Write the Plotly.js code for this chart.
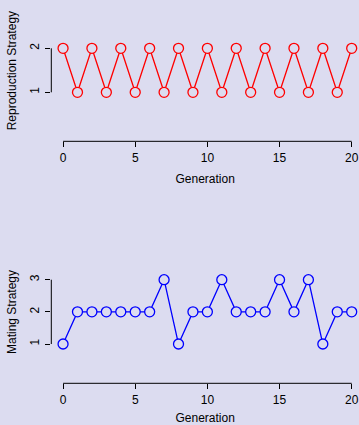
<!DOCTYPE html>
<html><head><meta charset="utf-8">
<script src="https://cdn.plot.ly/plotly-3.0.1.min.js"></script>
<style>html,body{margin:0;padding:0;background:#DCDCF0;}</style>
</head><body>
<div id="chart" style="width:359px;height:425px;"></div>
<script>
const generations = [0,1,2,3,4,5,6,7,8,9,10,11,12,13,14,15,16,17,18,19,20];
const reproductionStrategy = [2,1,2,1,2,1,2,1,2,1,2,1,2,1,2,1,2,1,2,1,2];
const matingStrategy = [1,2,2,2,2,2,2,3,1,2,2,3,2,2,2,3,2,3,1,2,2];
const xTicks = [0,5,10,15,20];
const yTicksTop = [1,2];
const yTicksBottom = [1,2,3];

const bg = '#DCDCF0';
const font = {family:'Liberation Sans, Arial, sans-serif', size:12, color:'#000'};

function trace(y, color, xa, ya){
  return {x:generations, y:y, xaxis:xa, yaxis:ya, type:'scatter', mode:'lines+markers',
    line:{color:color, width:1.3},
    marker:{symbol:'circle', size:10, color:bg, line:{color:color, width:1.3}},
    cliponaxis:false, hoverinfo:'skip'};
}

function xax(anchor){
  return {domain:[0.1429,1], anchor:anchor, range:[-0.8145,20.506], showgrid:false, zeroline:false,
    showline:false, ticks:'outside', ticklen:5, tickwidth:1, tickcolor:'#000',
    tickvals:xTicks, ticktext:xTicks.map(String), tickfont:font, ticklabelstandoff:0,
    title:{text:'Generation', font:font, standoff:10}};
}
function yax(anchor, domain, range, ticks, title){
  return {domain:domain, anchor:anchor, range:range, showgrid:false, zeroline:false,
    showline:false, ticks:'outside', ticklen:5, tickwidth:1, tickcolor:'#000',
    tickvals:ticks, ticktext:ticks.map(String), tickangle:-90, tickfont:font, ticklabelstandoff:2,
    title:{text:title, font:font, standoff:8}};
}

const shapes = [];
function axisLines(xa, ya, yt){
  shapes.push({type:'line', xref:xa, yref:ya+' domain', x0:xTicks[0], x1:xTicks[xTicks.length-1], y0:0, y1:0, line:{color:'#000', width:1}});
  shapes.push({type:'line', xref:xa+' domain', yref:ya, x0:0, x1:0, y0:yt[0], y1:yt[yt.length-1], line:{color:'#000', width:1}});
}
axisLines('x','y',yTicksTop);
axisLines('x2','y2',yTicksBottom);

const layout = {
  width:359, height:425, margin:{l:0,r:0,t:0,b:0},
  paper_bgcolor:bg, plot_bgcolor:bg, showlegend:false, font:font,
  xaxis: xax('y'),
  yaxis: yax('x', [0.6675,1], [-0.114,3.098], yTicksTop, 'Reproduction Strategy'),
  xaxis2: xax('y2'),
  yaxis2: yax('x2', [0.0981,0.4336], [-0.222,4.213], yTicksBottom, 'Mating Strategy'),
  shapes: shapes
};

Plotly.newPlot('chart', [trace(reproductionStrategy,'#FF0000','x','y'), trace(matingStrategy,'#0000FF','x2','y2')], layout, {staticPlot:true, displayModeBar:false});
</script>
</body></html>
